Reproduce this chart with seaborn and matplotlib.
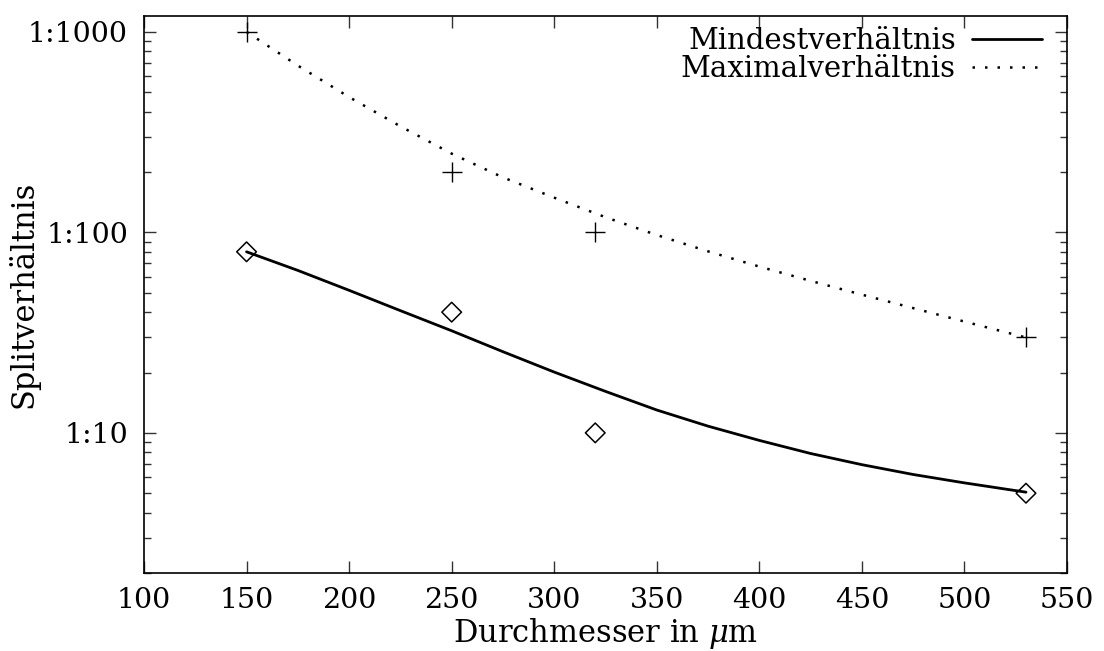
import numpy as np
import pandas as pd
import matplotlib
matplotlib.use("Agg")
import matplotlib.pyplot as plt
import matplotlib.ticker as mticker
import seaborn as sns

sns.set_theme(style="ticks")
plt.rcParams['font.family'] = ['DejaVu Serif']
plt.rcParams['mathtext.fontset'] = 'dejavuserif'
plt.rcParams['text.color'] = 'black'
plt.rcParams['axes.labelcolor'] = 'black'

# Messpunkte
durchmesser = [150, 250, 320, 530]
min_punkte = [80, 40, 10, 5]
max_punkte = [1000, 200, 100, 30]

# Ausgleichskurven
kurve_x = [150, 175, 200, 225, 250, 275, 300, 325, 350, 375, 400, 425, 450, 475, 500, 530]
min_kurve = [80, 64.6, 51.4, 40.7, 32.3, 25.4, 20.1, 16.1, 13.0, 10.8, 9.17, 7.89, 6.94, 6.2, 5.63, 5.06]
max_kurve = [1000, 679, 473, 338, 247, 188, 149, 119, 97, 80.4, 67.5, 57.3, 48.9, 41.9, 35.9, 29.9]

ytick_werte = [10, 100, 1000]
ytick_text = ["1:10", "1:100", "1:1000"]

kurven = pd.DataFrame({"x": kurve_x, "min": min_kurve, "max": max_kurve})
punkte = pd.DataFrame({"x": durchmesser, "min": min_punkte, "max": max_punkte})

fig = plt.figure(figsize=(11.04, 6.51), dpi=100)
ax = fig.add_axes([144/1104, 1 - 573/651, (1067-144)/1104, (573-16)/651])

sns.lineplot(data=kurven, x="x", y="min", color="black", linewidth=2, ax=ax,
             label="Mindestverhältnis")
sns.lineplot(data=kurven, x="x", y="max", color="black", linewidth=1.8,
             linestyle=(0, (1, 4)), ax=ax, label="Maximalverhältnis")

# Punkte ohne Legende
sns.scatterplot(data=punkte, x="x", y="min", marker="D", s=100, facecolor="none",
                edgecolor="black", linewidth=1.1, ax=ax, legend=False, zorder=4)
sns.scatterplot(data=punkte, x="x", y="max", marker="+", s=225, color="black",
                linewidth=1.0, ax=ax, legend=False, zorder=4)

ax.set_yscale("log")
ax.set_xlim(100, 550)
ax.set_ylim(2, 1200)
ax.set_xticks(range(100, 551, 50))
ax.yaxis.set_major_locator(mticker.FixedLocator(ytick_werte))
ax.yaxis.set_major_formatter(mticker.FixedFormatter(ytick_text))
ax.yaxis.set_minor_locator(mticker.LogLocator(base=10, subs=np.arange(2, 10)))
ax.yaxis.set_minor_formatter(mticker.NullFormatter())

ax.tick_params(axis="both", which="both", direction="in", colors="#333333",
               labelcolor="black", labelsize=20.5, top=True, right=True)
ax.tick_params(axis="both", which="major", length=8.6, width=1.0)
ax.tick_params(axis="y", which="minor", length=4.8, width=1.0)
ax.tick_params(axis="x", which="minor", length=0)
ax.tick_params(axis="y", which="major", pad=11.5)
ax.tick_params(axis="x", which="major", pad=10)

for sp in ax.spines.values():
    sp.set_color("black")
    sp.set_linewidth(1.2)

ax.set_xlabel("Durchmesser in $\\mu$m", fontsize=22)
ax.set_ylabel("Splitverhältnis", fontsize=22)
ax.xaxis.set_label_coords(0.5, -0.077)
ax.yaxis.set_label_coords(-0.1127, 0.5)

ax.legend(loc="upper right", bbox_to_anchor=(1 - 25/923, 1 - 11/557), frameon=False,
          markerfirst=False, fontsize=21, handlelength=2.4, handletextpad=0.55,
          labelspacing=0.0, borderpad=0, borderaxespad=0)

plt.savefig("out.png", dpi=100)
